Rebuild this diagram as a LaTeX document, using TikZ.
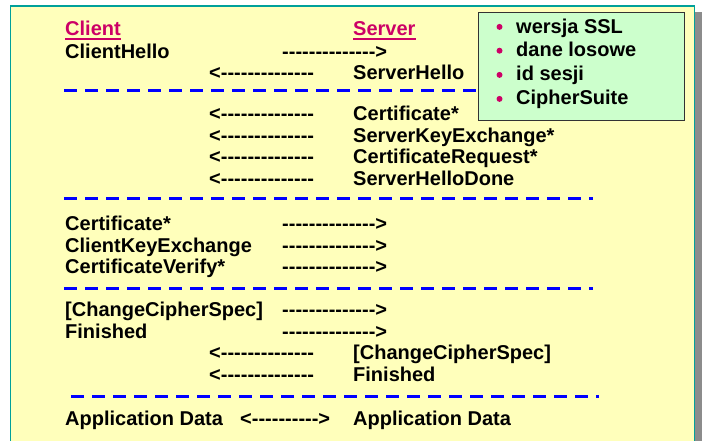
\documentclass[tikz,border=0pt]{standalone}
\usepackage{fontspec}
\setmainfont{Liberation Sans}
\definecolor{bgyellow}{HTML}{FFFFBB}
\definecolor{frameteal}{HTML}{00A09A}
\definecolor{shadowgray}{HTML}{8C8C8C}
\definecolor{boxgreen}{HTML}{CCFFCC}
\definecolor{boxline}{HTML}{333333}
\definecolor{headmag}{HTML}{CC0066}
\definecolor{sepblue}{HTML}{0000FF}
\def\hh{-\kern0pt}
\newcommand\larr{<\hh\hh\hh\hh\hh\hh\hh\hh\hh\hh\hh\hh\hh\hh}
\newcommand\rarr{\hh\hh\hh\hh\hh\hh\hh\hh\hh\hh\hh\hh\hh\hh>}
\newcommand\barr{<\hh\hh\hh\hh\hh\hh\hh\hh\hh\hh>}
\begin{document}
\begin{tikzpicture}[x=1pt,y=-1pt,
  txt/.style={anchor=base west, inner sep=0pt, font=\fontsize{20}{24}\selectfont\bfseries, text=black},
  head/.style={txt, text=headmag},
  uline/.style={draw=headmag, line width=2.3pt},
  sepline/.style={draw=sepblue, line width=3.3pt, dash pattern=on 12.5pt off 8.5pt},
  bulletdot/.style={fill=headmag}
]
\useasboundingbox (0,0) rectangle (710,441);
\clip (0,0) rectangle (710,441);
% frame with shadow
\fill[shadowgray] (17,12.5) rectangle (702,460);
\draw[frameteal, line width=1.5pt, fill=bgyellow] (10.7,6) rectangle (694.5,470);

% separators
\draw[sepline] (64,90.3) -- (592.7,90.3);
\draw[sepline] (64,198.7) -- (592.7,198.7);
\draw[sepline] (64,288.8) -- (592.7,288.8);
\draw[sepline] (71,396.8) -- (599,396.8);

% headings
\node[head] (client) at (65,36) {Client};
\node[head] (server) at (353,36) {Server};
\draw[uline] ([yshift=-2.7pt]client.base west) -- ([yshift=-2.7pt]client.base east);
\draw[uline] ([yshift=-2.7pt]server.base west) -- ([yshift=-2.7pt]server.base east);

% hello phase
\node[txt] (chello) at (65,58.3) {ClientHello};
\node[txt] (a1) at (282,58.3) {\rarr};
\node[txt] (a2) at (209,79.5) {\larr};
\node[txt] (shello) at (353,79.5) {ServerHello};

% server certificates
\node[txt] (a3) at (209,121) {\larr};
\node[txt] (scert) at (353,121) {Certificate*};
\node[txt] (a4) at (209,142.5) {\larr};
\node[txt] (skex) at (353,142.5) {ServerKeyExchange*};
\node[txt] (a5) at (209,164) {\larr};
\node[txt] (creq) at (353,164) {CertificateRequest*};
\node[txt] (a6) at (209,185.5) {\larr};
\node[txt] (shdone) at (353,185.5) {ServerHelloDone};

% client key exchange
\node[txt] (ccert) at (65,230.5) {Certificate*};
\node[txt] (a7) at (282,230.5) {\rarr};
\node[txt] (ckex) at (65,252) {ClientKeyExchange};
\node[txt] (a8) at (282,252) {\rarr};
\node[txt] (cver) at (65,273.5) {CertificateVerify*};
\node[txt] (a9) at (282,273.5) {\rarr};

% finish
\node[txt] (cccs) at (65,316.5) {[ChangeCipherSpec]};
\node[txt] (a10) at (282,316.5) {\rarr};
\node[txt] (cfin) at (65,338) {Finished};
\node[txt] (a11) at (282,338) {\rarr};
\node[txt] (a12) at (209,359.5) {\larr};
\node[txt] (sccs) at (353,359.5) {[ChangeCipherSpec]};
\node[txt] (a13) at (209,381) {\larr};
\node[txt] (sfin) at (353,381) {Finished};

% application data
\node[txt] (cad) at (65,425) {Application Data};
\node[txt] (a14) at (240,425) {\barr};
\node[txt] (sad) at (353,425) {Application Data};

% info box
\draw[boxline, line width=1pt, fill=boxgreen] (478.3,12.5) rectangle (684.7,120.5);
\fill[bulletdot] (499.5,26.9) circle (3);
\fill[bulletdot] (499.5,50.7) circle (3);
\fill[bulletdot] (499.5,74.9) circle (3);
\fill[bulletdot] (499.5,98.9) circle (3);
\node[txt] (b1) at (516,33.3) {wersja SSL};
\node[txt] (b2) at (516,57) {dane losowe};
\node[txt] (b3) at (516,81) {id sesji};
\node[txt] (b4) at (516,105) {CipherSuite};
\end{tikzpicture}
\end{document}
